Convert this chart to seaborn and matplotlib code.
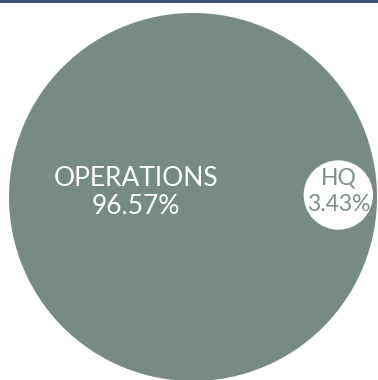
import numpy as np
import seaborn as sns
import matplotlib.pyplot as plt
from matplotlib.patches import Circle, Rectangle

# data
names = ['OPERATIONS', 'HQ']
shares = [96.57, 3.43]
fill_colors = ['#778b82', '#ffffff']
text_colors = ['#ffffff', '#7d8f88']

sns.set_theme(style='white')
plt.rcParams['font.family'] = ['Lato', 'DejaVu Sans']

fig = plt.figure(figsize=(3.78, 3.80), dpi=100)
ax = fig.add_axes([0, 0, 1, 1])
ax.set_xlim(0, 378)
ax.set_ylim(380, 0)
ax.set_aspect('equal')
ax.axis('off')

# circle area proportional to share
R = 184
radii = [R * np.sqrt(s / shares[0]) for s in shares]
centers = [(193, 197), (193 + R - radii[1] - 4, 195)]
label_pos = [(136, 193), (centers[1][0], 191)]
sizes = [19, 16.5]
spacing = [1.15, 1.35]

for name, s, r, c, fc, tc, lp, fs, ls in zip(names, shares, radii, centers, fill_colors,
                                              text_colors, label_pos, sizes, spacing):
    ax.add_patch(Circle(c, r, facecolor=fc, edgecolor='none'))
    ax.text(lp[0], lp[1], f'{name}\n{s:.2f}%', ha='center', va='center',
            color=tc, fontsize=fs, fontweight='normal', linespacing=ls)

# top bar
ax.add_patch(Rectangle((0, 0), 378, 3, facecolor='#3d4f72', edgecolor='none',
                       clip_on=False))

fig.savefig('out.png', dpi=100)
